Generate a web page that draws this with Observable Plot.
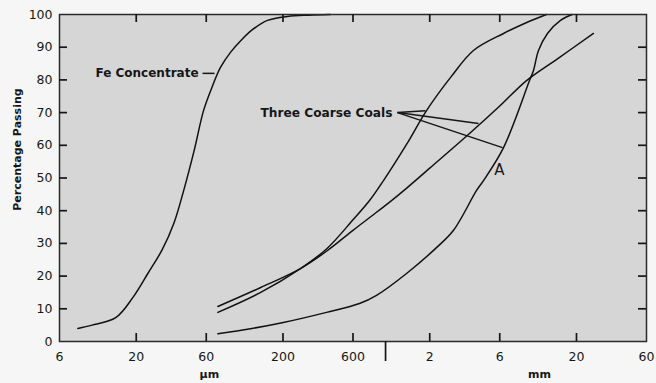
<!DOCTYPE html>
<html>
<head>
<meta charset="utf-8">
<script src="https://cdn.jsdelivr.net/npm/d3@7"></script>
<script src="https://cdn.jsdelivr.net/npm/@observablehq/plot@0.6"></script>
<style>
  html, body { margin: 0; padding: 0; background: #f6f6f6; }
  #chart { width: 656px; height: 383px; overflow: hidden; }
  #chart svg text.tick-label { letter-spacing: 1.2px; }
</style>
</head>
<body>
<div id="chart"></div>
<script>
// Particle size in µm (log scale), percentage passing
const feX = [8, 10, 14.5, 19, 24, 30, 36, 42, 50, 57.5, 66, 75, 88, 103, 125, 157, 215, 300, 420];
const feY = [4, 5, 7.3, 13.5, 20.8, 28, 36, 46, 59, 70.6, 78, 83.8, 88.5, 92, 95.5, 98.2, 99.4, 99.8, 100];

const coalBX = [72, 141, 263, 396, 600, 778, 968, 1400, 1901, 2800, 3973, 6366, 9000, 12500];
const coalBY = [8.9, 15, 22.3, 28.3, 37.2, 43.1, 49.2, 60.5, 70.6, 81, 89, 94.2, 97.4, 100];

const coalCX = [72, 141, 263, 396, 600, 800, 1098, 1400, 2000, 3733, 6000, 9130, 15000, 26100];
const coalCY = [10.7, 16.5, 22.3, 27.6, 34, 38.3, 43.1, 47, 53, 63.6, 72, 79.8, 86.6, 94.2];

const coalAX = [72, 120, 201, 396, 664, 868, 1390, 2224, 2905, 4170, 4648, 6366, 9570, 10190, 11020, 12690, 15560, 18700];
const coalAY = [2.4, 3.9, 5.8, 8.9, 11.6, 14.1, 20.8, 28.7, 34, 46.2, 49.2, 59.3, 79.8, 82.9, 89, 94.2, 98.2, 100];

// Axis ticks
const xTickVals = [20, 60, 200, 600, 2000, 6000, 20000];
const xLabelVals = [6, 20, 60, 200, 600, 2000, 6000, 20000, 60000];
const xLabels = ["6", "20", "60", "200", "600", "2", "6", "20", "60"];
const xUnitSplit = [1000];
const yTickVals = [10, 20, 30, 40, 50, 60, 70, 80, 90];
const yLabelVals = [0, 10, 20, 30, 40, 50, 60, 70, 80, 90, 100];
const xMin = 6, xMax = 60000, yMin = 0, yMax = 100;

// Annotations (data coordinates)
const feLabel = {text: "Fe Concentrate", x1: 56.6, x2: 68.3, y: 82};
const coalLabel = {text: "Three Coarse Coals", x: 1206, y: 70};
const coalLeaderEnds = [[1871, 70.6], [4300, 66.7], [6265, 59.3]];
const aLabel = {text: "A", x: 5972, y: 52.3};
const unitLabels = [{text: "µm", x: 63}, {text: "mm", x: 11200}];
const yTitle = {text: "Percentage Passing", y: 58.7};

const series = [
  {name: "Fe", xs: feX, ys: feY},
  {name: "B", xs: coalBX, ys: coalBY},
  {name: "C", xs: coalCX, ys: coalCY},
  {name: "A", xs: coalAX, ys: coalAY}
];
const rows = series.flatMap(s => s.xs.map((x, i) => ({name: s.name, x, y: s.ys[i]})));
const leaders = coalLeaderEnds.map(([x2, y2]) => ({x1: coalLabel.x, y1: coalLabel.y, x2, y2}));
const labelMap = new Map(xLabelVals.map((v, i) => [v, xLabels[i]]));

const ink = "#161616";
const tickStyle = {stroke: ink, strokeWidth: 1.7};
const chart = Plot.plot({
  width: 656,
  height: 383,
  marginTop: 14,
  marginBottom: 42,
  marginLeft: 59,
  marginRight: 10,
  style: {fontFamily: "DejaVu Sans", background: "transparent", color: ink, fontSize: "12px"},
  x: {type: "log", domain: [xMin, xMax], axis: null},
  y: {domain: [yMin, yMax], axis: null},
  marks: [
    Plot.frame({fill: "#d6d6d6", stroke: "none"}),
    // tick labels
    Plot.text(yLabelVals, {y: d => d, text: d => String(d), frameAnchor: "left", textAnchor: "end", dx: -7, fontSize: 12.5, fill: ink, className: "tick-label"}),
    Plot.text(xLabelVals, {x: d => d, text: d => labelMap.get(d), frameAnchor: "bottom", lineAnchor: "top", dy: 11, fontSize: 12.5, fill: ink, className: "tick-label"}),
    // curves
    Plot.line(rows, {x: "x", y: "y", z: "name", curve: "catmull-rom", stroke: "#111", strokeWidth: 1.5}),
    // annotations
    Plot.link([feLabel], {x1: "x1", x2: "x2", y1: "y", y2: "y", stroke: ink, strokeWidth: 1.5}),
    Plot.text([feLabel], {x: "x1", y: "y", text: "text", textAnchor: "end", dx: -4, fontWeight: "bold", fontSize: 12, fill: ink}),
    Plot.link(leaders, {x1: "x1", y1: "y1", x2: "x2", y2: "y2", stroke: ink, strokeWidth: 1.5}),
    Plot.text([coalLabel], {x: "x", y: "y", text: "text", textAnchor: "end", dx: -5, fontWeight: "bold", fontSize: 12.2, fill: ink}),
    Plot.text([aLabel], {x: "x", y: "y", text: "text", fontSize: 15, fill: ink}),
    Plot.text(unitLabels, {x: "x", text: "text", frameAnchor: "bottom", lineAnchor: "top", dy: 29, fontSize: 11, fontWeight: "bold", fill: ink}),
    Plot.text([yTitle], {y: "y", text: "text", frameAnchor: "left", textAnchor: "middle", dx: -42, rotate: -90, fontSize: 11, fontWeight: "bold", fill: ink}),
    Plot.frame({stroke: "#2a2a2a", strokeWidth: 1.5}),
    // inward ticks: zero-length rules at the frame edge, extended by a fixed pixel inset
    Plot.ruleY(yTickVals, {y: d => d, x1: xMin, x2: xMin, insetRight: -8, ...tickStyle}),
    Plot.ruleY(yTickVals, {y: d => d, x1: xMax, x2: xMax, insetLeft: -8, ...tickStyle}),
    Plot.ruleX(xTickVals, {x: d => d, y1: yMin, y2: yMin, insetTop: -8, ...tickStyle}),
    Plot.ruleX(xTickVals, {x: d => d, y1: yMax, y2: yMax, insetBottom: -8, ...tickStyle}),
    Plot.ruleX(xUnitSplit, {x: d => d, y1: yMin, y2: yMin, insetBottom: -20, ...tickStyle})
  ]
});
document.getElementById("chart").appendChild(chart);
</script>
</body>
</html>
